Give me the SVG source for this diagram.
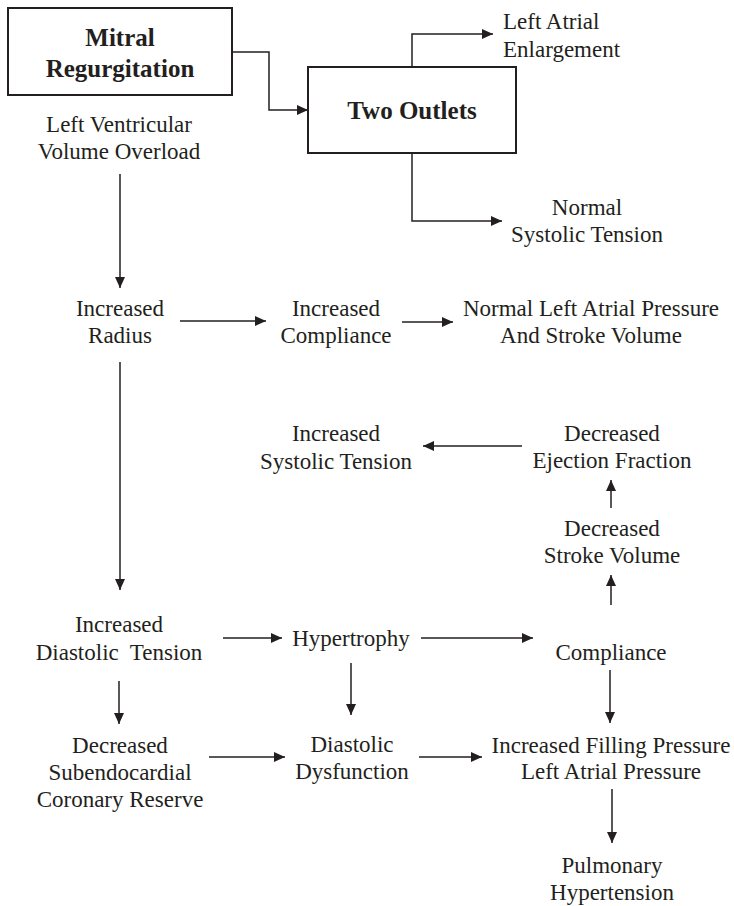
<svg xmlns="http://www.w3.org/2000/svg" width="734" height="906" viewBox="0 0 734 906">
<defs>
<marker id="ah" markerWidth="11" markerHeight="10" refX="11" refY="5" orient="auto" markerUnits="userSpaceOnUse">
<path d="M0,0 L11,5 L0,10 z" fill="#231f20"/>
</marker>
<style>
.t{font-family:"Liberation Serif","Times New Roman",serif;font-size:23px;fill:#231f20;text-anchor:middle}
.l{text-anchor:start}
.b{font-weight:bold;font-size:25px}
.box{fill:#fff;stroke:#231f20;stroke-width:2}
.c{fill:none;stroke:#231f20;stroke-width:1.5;marker-end:url(#ah)}
</style>
</defs>
<rect width="734" height="906" fill="#fff"/>
<g id="connectors">
<path class="c" d="M232,52 H269 V110 H308"/>
<path class="c" d="M412,67 V34 H493"/>
<path class="c" d="M412,153 V221 H502"/>
<path class="c" d="M120,174 V288"/>
<path class="c" d="M180,321 H266"/>
<path class="c" d="M402,322 H453"/>
<path class="c" d="M120,362 V590"/>
<path class="c" d="M522,446 H423"/>
<path class="c" d="M611,508 V480"/>
<path class="c" d="M611,605 V575"/>
<path class="c" d="M223,638 H282"/>
<path class="c" d="M421,638 H533"/>
<path class="c" d="M119,681 V724"/>
<path class="c" d="M351,663 V715"/>
<path class="c" d="M610,670 V723"/>
<path class="c" d="M209,757 H285"/>
<path class="c" d="M419,757 H482"/>
<path class="c" d="M612,789 V843"/>
</g>
<g id="mitral-regurgitation">
<rect class="box" x="8" y="8" width="224" height="87"/>
<text class="t b" x="120" y="46">Mitral</text>
<text class="t b" x="120" y="77">Regurgitation</text>
</g>
<g id="two-outlets">
<rect class="box" x="308" y="67" width="208" height="86"/>
<text class="t b" x="412" y="119">Two Outlets</text>
</g>
<g id="left-atrial-enlargement">
<text class="t l" x="503" y="29">Left Atrial</text>
<text class="t l" x="503" y="57">Enlargement</text>
</g>
<g id="normal-systolic-tension">
<text class="t" x="587" y="215">Normal</text>
<text class="t" x="587" y="242">Systolic Tension</text>
</g>
<g id="lv-volume-overload">
<text class="t" x="119" y="132">Left Ventricular</text>
<text class="t" x="119" y="159">Volume Overload</text>
</g>
<g id="increased-radius">
<text class="t" x="120" y="316">Increased</text>
<text class="t" x="120" y="343">Radius</text>
</g>
<g id="increased-compliance">
<text class="t" x="336" y="316">Increased</text>
<text class="t" x="336" y="343">Compliance</text>
</g>
<g id="normal-la-pressure">
<text class="t" x="591" y="316">Normal Left Atrial Pressure</text>
<text class="t" x="591" y="343">And Stroke Volume</text>
</g>
<g id="increased-systolic-tension">
<text class="t" x="336" y="441">Increased</text>
<text class="t" x="336" y="469">Systolic Tension</text>
</g>
<g id="decreased-ejection-fraction">
<text class="t" x="612" y="441">Decreased</text>
<text class="t" x="612" y="468">Ejection Fraction</text>
</g>
<g id="decreased-stroke-volume">
<text class="t" x="612" y="536">Decreased</text>
<text class="t" x="612" y="563">Stroke Volume</text>
</g>
<g id="increased-diastolic-tension">
<text class="t" x="119" y="632">Increased</text>
<text class="t" x="119" y="660" xml:space="preserve">Diastolic  Tension</text>
</g>
<g id="hypertrophy">
<text class="t" x="351" y="646">Hypertrophy</text>
</g>
<g id="compliance">
<text class="t" x="611" y="660">Compliance</text>
</g>
<g id="decreased-coronary-reserve">
<text class="t" x="120" y="753">Decreased</text>
<text class="t" x="120" y="780">Subendocardial</text>
<text class="t" x="120" y="807">Coronary Reserve</text>
</g>
<g id="diastolic-dysfunction">
<text class="t" x="352" y="752">Diastolic</text>
<text class="t" x="352" y="779">Dysfunction</text>
</g>
<g id="increased-filling-pressure">
<text class="t" x="611" y="753">Increased Filling Pressure</text>
<text class="t" x="611" y="779">Left Atrial Pressure</text>
</g>
<g id="pulmonary-hypertension">
<text class="t" x="612" y="873">Pulmonary</text>
<text class="t" x="612" y="900">Hypertension</text>
</g>
</svg>
